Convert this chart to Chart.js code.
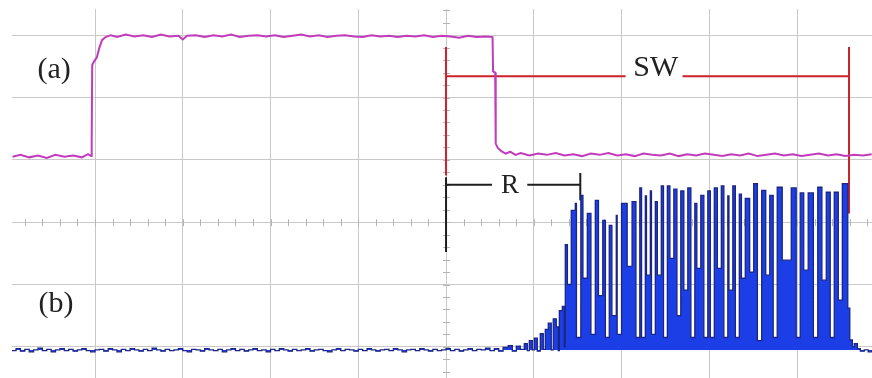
<!DOCTYPE html>
<html>
<head>
<meta charset="utf-8">
<script src="https://cdn.jsdelivr.net/npm/chart.js@4.4.0/dist/chart.umd.min.js"></script>
<style>
  html, body { margin: 0; padding: 0; background: #fff; }
  canvas { display: block; }
</style>
</head>
<body>
<canvas id="scope" width="872" height="378"></canvas>
<script>
// time in tenths of a division, voltage in divisions (0 = screen centre)
const gridTime = [10, 20, 30, 40, 50, 60, 70, 80, 90];
const gridVolt = [-2, -1, 0, 1, 2, 3];

// trace (a) - magenta
const traceATime = [0.6, 1.5, 2.5, 3.5, 4.5, 5.5, 6.5, 7.5, 8.5, 9.2, 9.55, 9.62, 9.68, 9.9, 10.2, 10.5, 10.8, 11.2, 11.8,
  12.5, 13.5, 14.5, 15.5, 16.5, 17.5, 18.5, 19.5, 20.0, 20.5, 21.5, 22.5, 23.5, 24.5, 25.5, 26.5, 27.5, 28.5, 29.5,
  30.5, 31.5, 32.5, 33.5, 34.5, 35.5, 36.5, 37.5, 38.5, 39.5, 40.5, 41.5, 42.5, 43.5, 44.5, 45.5, 46.5, 47.5, 48.5,
  49.5, 50.5, 51.5, 52.5, 53.5, 54.5, 55.3, 55.36, 55.6, 55.66, 55.9, 56.3, 56.8, 57.3, 57.9, 58.5, 59.5, 60.5, 61.5,
  62.5, 63.5, 64.5, 65.5, 66.5, 67.5, 68.5, 69.5, 70.5, 71.5, 72.5, 73.5, 74.5, 75.5, 76.5, 77.5, 78.5, 79.5, 80.5,
  81.5, 82.5, 83.5, 84.5, 85.5, 86.5, 87.5, 88.5, 89.5, 90.5, 91.5, 92.5, 93.5, 94.5, 95.5, 96.5, 97.5, 98.5];
const traceAVolt = [1.05, 1.08, 1.04, 1.07, 1.03, 1.08, 1.05, 1.07, 1.04, 1.09, 1.06, 1.3, 2.52, 2.58, 2.64, 2.8, 2.92, 2.97, 3.0,
  2.97, 3.01, 2.98, 3.0, 2.97, 3.01, 2.98, 2.99, 2.93, 2.99, 3.0, 2.97, 3.0, 2.98, 3.01, 2.97, 2.99, 3.0, 2.98,
  3.0, 2.97, 2.99, 3.01, 2.98, 3.0, 2.97, 2.99, 3.0, 2.98, 2.97, 3.0, 2.98, 2.99, 2.97, 2.99, 2.98, 3.0, 2.97,
  2.99, 2.98, 2.96, 2.99, 2.97, 2.98, 2.97, 2.42, 2.4, 1.26, 1.19, 1.14, 1.1, 1.13, 1.08, 1.11, 1.07, 1.1, 1.08,
  1.11, 1.07, 1.09, 1.06, 1.1, 1.08, 1.11, 1.07, 1.09, 1.06, 1.1, 1.08, 1.07, 1.1, 1.06, 1.09, 1.07, 1.1, 1.08,
  1.06, 1.09, 1.07, 1.1, 1.06, 1.08, 1.1, 1.07, 1.09, 1.06, 1.08, 1.1, 1.07, 1.09, 1.06, 1.08, 1.07, 1.09];

// trace (b) - blue burst
const traceBTime = [0.5, 1, 1.5, 2, 2.5, 3, 3.5, 4, 4.5, 5, 5.5, 6, 6.5, 7, 7.5, 8, 8.5, 9, 9.5, 10,
  10.5, 11, 11.5, 12, 12.5, 13, 13.5, 14, 14.5, 15, 15.5, 16, 16.5, 17, 17.5, 18, 18.5, 19, 19.5, 20,
  20.5, 21, 21.5, 22, 22.5, 23, 23.5, 24, 24.5, 25, 25.5, 26, 26.5, 27, 27.5, 28, 28.5, 29, 29.5, 30,
  30.5, 31, 31.5, 32, 32.5, 33, 33.5, 34, 34.5, 35, 35.5, 36, 36.5, 37, 37.5, 38, 38.5, 39, 39.5, 40,
  40.5, 41, 41.5, 42, 42.5, 43, 43.5, 44, 44.5, 45, 45.5, 46, 46.5, 47, 47.5, 48, 48.5, 49, 49.5, 50,
  50.5, 51, 51.5, 52, 52.5, 53, 53.5, 54, 54.5, 55, 55.5, 56, 56.5,
  57.09, 57.55, 58.01, 58.46, 58.92, 59.26, 59.49, 59.83, 60.06, 60.4, 60.74, 61.08, 61.31, 61.65, 61.99,
  62.22, 62.56, 62.79, 62.91, 63.25, 63.48, 63.59, 63.83, 64.27, 64.73, 64.86, 65.36, 65.6, 66.1, 66.51,
  67.01, 67.37, 67.86, 68.16, 68.6, 68.9, 69.4, 69.5, 70.0, 70.64, 71.2, 71.64, 72.08, 72.28, 72.71,
  72.84, 73.28, 73.41, 73.85, 74.08, 74.53, 74.78, 75.22, 75.51, 75.96, 76.31, 76.75, 77.1, 77.55, 77.9,
  78.35, 78.58, 79.03, 79.38, 79.83, 80.12, 80.57, 80.92, 81.37, 81.66, 82.11, 82.24, 82.68, 82.97, 83.42,
  83.66, 84.1, 84.6, 85.06, 85.48, 85.97, 86.43, 86.89, 87.28, 87.74, 88.31, 89.34, 89.9, 90.36, 90.76,
  91.27, 91.86, 92.36, 92.83, 93.33, 93.78, 94.24, 94.7, 95.16, 95.78, 96.01, 96.3, 96.52, 96.87, 97.21,
  97.66, 98.11, 98.56];
const traceBVolt = [-2.06, -2.03, -2.07, -2.04, -2.08, -2.05, -2.02, -2.06, -2.04, -2.08, -2.05, -2.03, -2.06, -2.04, -2.07, -2.05, -2.03, -2.06, -2.08, -2.05,
  -2.04, -2.07, -2.03, -2.05, -2.08, -2.04, -2.06, -2.03, -2.05, -2.07, -2.04, -2.06, -2.02, -2.05, -2.07, -2.04, -2.06, -2.05, -2.03, -2.06,
  -2.08, -2.04, -2.05, -2.07, -2.03, -2.05, -2.06, -2.04, -2.08, -2.05, -2.03, -2.06, -2.04, -2.07, -2.05, -2.03, -2.06, -2.05, -2.08, -2.04,
  -2.06, -2.03, -2.05, -2.07, -2.04, -2.06, -2.05, -2.03, -2.07, -2.05, -2.04, -2.06, -2.08, -2.05, -2.03, -2.06, -2.04, -2.05, -2.07, -2.04,
  -2.06, -2.03, -2.05, -2.07, -2.05, -2.04, -2.06, -2.03, -2.05, -2.08, -2.05, -2.04, -2.06, -2.03, -2.05, -2.07, -2.04, -2.06, -2.05, -2.03,
  -2.06, -2.04, -2.07, -2.05, -2.03, -2.06, -2.04, -2.05, -2.02, -2.06, -2.03, -2.07, -2.01,
  -1.98, -2.07, -1.99, -2.04, -1.95, -2.06, -1.9, -2.05, -1.86, -2.07, -1.79, -2.04, -1.72, -1.62, -2.05,
  -1.55, -1.68, -2.06, -1.42, -1.35, -2.0, -0.36, -1.0, 0.19, 0.3, -1.85, 0.43, -0.9, 0.14, -1.8,
  0.35, -1.18, 0.03, -1.85, -0.05, -1.5, 0.11, -1.8, 0.3, -0.71, 0.33, -1.85, 0.55, -1.85, 0.42,
  -0.85, 0.5, -1.8, 0.33, -0.85, 0.58, -1.85, 0.58, -0.58, 0.53, -1.5, 0.5, -1.09, 0.55, -1.85,
  0.3, -0.74, 0.43, -1.85, 0.5, -1.85, 0.55, -0.74, 0.58, -1.85, 0.42, -1.09, 0.58, -1.85, 0.45,
  -0.9, 0.38, -0.8, 0.62, -1.9, 0.51, -0.85, 0.43, -1.85, 0.56, -0.61, 0.55, -1.85, 0.47, -0.77,
  0.47, -1.85, 0.56, -0.93, 0.48, -1.85, 0.48, -1.25, 0.62, -1.38, -1.89, -2.0, -1.95, -2.03, -2.07,
  -2.05, -2.08, -2.06];
const baselineB = -2.05;

// cursors: SW (red) and R (black)
const swTime = [50, 70.46, 72, 76.95, 95.92];
const swVolt = [2.34, 2.34, null, 2.34, 2.34];
const swLeftVolt = [2.81, 0.75];
const swRightVolt = [2.81, 0.14];
const rTime = [50, 55.24, 56, 59.26, 65.3];
const rVolt = [0.6, 0.6, null, 0.6, 0.6];
const rLeftVolt = [0.72, -0.48];
const rRightVolt = [0.79, 0.35];

const labels = [
  { text: '(a)', x: 5.35, y: 2.44, size: 30 },
  { text: '(b)', x: 5.55, y: -1.32, size: 30 },
  { text: 'SW', x: 73.9, y: 2.47, size: 30 },
  { text: 'R', x: 57.3, y: 0.58, size: 27 }
];

const pts = (xs, ys) => xs.map((x, i) => ({ x: x, y: ys[i] }));

const scopeTicks = {
  id: 'scopeTicks',
  beforeDatasetsDraw(chart) {
    const { ctx, scales: { x, y } } = chart;
    const cx = x.getPixelForValue(50);
    const cy = y.getPixelForValue(0);
    ctx.save();
    ctx.strokeStyle = '#b4b4b4';
    ctx.lineWidth = 1;
    ctx.beginPath();
    for (let t = 2; t < 100; t += 2) {
      const px = Math.round(x.getPixelForValue(t)) + 0.5;
      ctx.moveTo(px, cy - 3);
      ctx.lineTo(px, cy + 4);
    }
    for (let v = -2.4; v < 3.5; v += 0.2) {
      const py = Math.round(y.getPixelForValue(v)) + 0.5;
      ctx.moveTo(cx - 3, py);
      ctx.lineTo(cx + 4, py);
    }
    ctx.stroke();
    ctx.restore();
  }
};

const scopeLabels = {
  id: 'scopeLabels',
  afterDatasetsDraw(chart) {
    const { ctx, scales: { x, y } } = chart;
    ctx.save();
    ctx.fillStyle = '#222';
    ctx.textAlign = 'center';
    ctx.textBaseline = 'middle';
    labels.forEach(l => {
      ctx.font = l.size + 'px "Liberation Serif", "Times New Roman", serif';
      ctx.fillText(l.text, x.getPixelForValue(l.x), y.getPixelForValue(l.y));
    });
    ctx.restore();
  }
};

const gridStyle = { color: '#c9c9c9', lineWidth: 1, drawTicks: false };

new Chart(document.getElementById('scope'), {
  type: 'line',
  data: {
    datasets: [
      {
        data: pts(traceBTime, traceBVolt),
        stepped: true,
        borderColor: '#1b2684',
        borderWidth: 1.3,
        backgroundColor: '#1c3ee6',
        fill: { value: baselineB },
        pointRadius: 0
      },
      {
        data: pts(traceATime, traceAVolt),
        borderColor: '#c23bbd',
        borderWidth: 2,
        fill: false,
        pointRadius: 0
      },
      {
        data: pts(swTime, swVolt),
        borderColor: '#cc2229',
        borderWidth: 2,
        spanGaps: false,
        pointRadius: 0
      },
      {
        data: pts([50, 50], swLeftVolt),
        borderColor: '#cc2229',
        borderWidth: 2,
        pointRadius: 0
      },
      {
        data: pts([95.92, 95.92], swRightVolt),
        borderColor: '#cc2229',
        borderWidth: 2,
        pointRadius: 0
      },
      {
        data: pts(rTime, rVolt),
        borderColor: '#1e1e1e',
        borderWidth: 2,
        spanGaps: false,
        pointRadius: 0
      },
      {
        data: pts([50, 50], rLeftVolt),
        borderColor: '#1e1e1e',
        borderWidth: 2,
        pointRadius: 0
      },
      {
        data: pts([65.3, 65.3], rRightVolt),
        borderColor: '#1e1e1e',
        borderWidth: 2,
        pointRadius: 0
      }
    ]
  },
  options: {
    responsive: false,
    animation: false,
    events: [],
    layout: { padding: { left: 12, top: 9, right: 0, bottom: 0 } },
    plugins: { legend: { display: false }, tooltip: { enabled: false } },
    scales: {
      x: {
        type: 'linear',
        min: 0.54,
        max: 98.54,
        grid: gridStyle,
        border: { display: false },
        ticks: { display: false },
        afterBuildTicks: s => { s.ticks = gridTime.map(v => ({ value: v })); }
      },
      y: {
        type: 'linear',
        min: -2.5,
        max: 3.42,
        grid: gridStyle,
        border: { display: false },
        ticks: { display: false },
        afterBuildTicks: s => { s.ticks = gridVolt.map(v => ({ value: v })); }
      }
    }
  },
  plugins: [scopeTicks, scopeLabels]
});
</script>
</body>
</html>
